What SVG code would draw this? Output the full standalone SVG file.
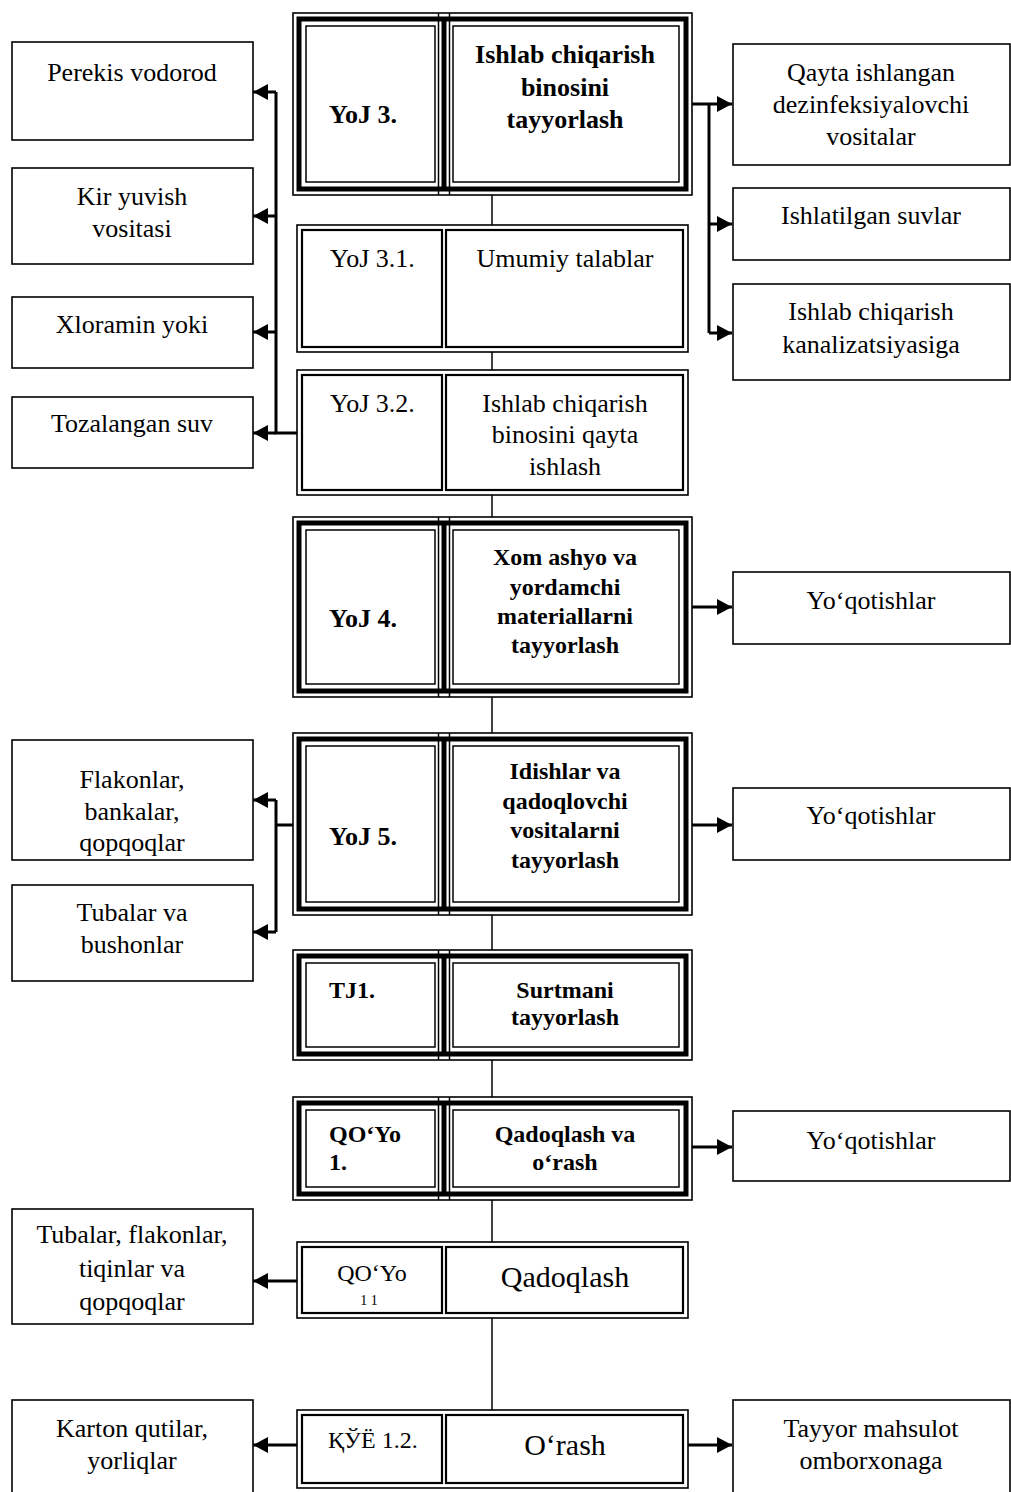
<svg xmlns="http://www.w3.org/2000/svg" width="1011" height="1492" viewBox="0 0 1011 1492">
<style>
text{font-family:"Liberation Serif","DejaVu Serif",serif;fill:#000;text-anchor:middle}
.n{font-size:26px}
.b{font-weight:bold}
.s24{font-size:24px}
.s26{font-size:26px}
.s30{font-size:30px}
.l{text-anchor:start}
.box{fill:#fff;stroke:#000;stroke-width:1.6}
.th{fill:none;stroke:#000;stroke-width:1.5}
.tk{fill:none;stroke:#000;stroke-width:5}
.dk{fill:none;stroke:#000;stroke-width:2.2}
.c{fill:none;stroke:#000;stroke-width:3}
.cl{fill:none;stroke:#000;stroke-width:1.5}
</style>
<defs>
<marker id="ah" markerUnits="userSpaceOnUse" markerWidth="18" markerHeight="18" refX="15" refY="8" orient="auto">
<path d="M0,0 L15,8 L0,16 Z" fill="#000"/>
</marker>
</defs>
<rect width="1011" height="1492" fill="#fff"/>

<g id="connectors">
<line class="cl" x1="492" y1="195" x2="492" y2="1410"/>
<polyline class="c" points="297,433 276,433 276,92"/>
<line class="c" x1="276" y1="92" x2="253" y2="92" marker-end="url(#ah)"/>
<line class="c" x1="276" y1="216" x2="253" y2="216" marker-end="url(#ah)"/>
<line class="c" x1="276" y1="332" x2="253" y2="332" marker-end="url(#ah)"/>
<line class="c" x1="276" y1="433" x2="253" y2="433" marker-end="url(#ah)"/>
<line class="c" x1="692" y1="104" x2="732" y2="104" marker-end="url(#ah)"/>
<line class="c" x1="709" y1="104" x2="709" y2="333"/>
<line class="c" x1="709" y1="224" x2="732" y2="224" marker-end="url(#ah)"/>
<line class="c" x1="709" y1="333" x2="732" y2="333" marker-end="url(#ah)"/>
<line class="c" x1="692" y1="607" x2="732" y2="607" marker-end="url(#ah)"/>
<line class="c" x1="692" y1="825" x2="732" y2="825" marker-end="url(#ah)"/>
<line class="c" x1="293" y1="825" x2="276" y2="825"/>
<line class="c" x1="276" y1="800" x2="276" y2="932"/>
<line class="c" x1="276" y1="800" x2="253" y2="800" marker-end="url(#ah)"/>
<line class="c" x1="276" y1="932" x2="253" y2="932" marker-end="url(#ah)"/>
<line class="c" x1="692" y1="1147" x2="732" y2="1147" marker-end="url(#ah)"/>
<line class="c" x1="297" y1="1281" x2="253" y2="1281" marker-end="url(#ah)"/>
<line class="c" x1="297" y1="1445" x2="253" y2="1445" marker-end="url(#ah)"/>
<line class="c" x1="688" y1="1445" x2="732" y2="1445" marker-end="url(#ah)"/>
</g>

<g id="n-yoj3">
<rect class="box" x="293" y="13" width="399" height="182"/>
<rect class="tk" x="299" y="19" width="387" height="170"/>
<line x1="444" y1="19" x2="444" y2="189" stroke="#000" stroke-width="5"/>
<line class="th" x1="438.5" y1="13" x2="438.5" y2="195"/>
<line class="th" x1="449.5" y1="13" x2="449.5" y2="195"/>
<rect class="th" x="306" y="26" width="129" height="156"/>
<rect class="th" x="453" y="26" width="226" height="156"/>
<text class="b s26 l" x="329" y="123">YoJ 3.</text>
<text class="b s26" x="565" y="63">Ishlab chiqarish</text>
<text class="b s26" x="565" y="96">binosini</text>
<text class="b s26" x="565" y="128">tayyorlash</text>
</g>

<g id="n-yoj31">
<rect class="box" x="297" y="225" width="391" height="127"/>
<rect class="dk" x="302" y="230" width="140" height="117"/>
<rect class="dk" x="446" y="230" width="237" height="117"/>
<text class="n l" x="330" y="267">YoJ 3.1.</text>
<text class="n" x="565" y="267">Umumiy talablar</text>
</g>

<g id="n-yoj32">
<rect class="box" x="297" y="370" width="391" height="125"/>
<rect class="dk" x="302" y="375" width="140" height="115"/>
<rect class="dk" x="446" y="375" width="237" height="115"/>
<text class="n l" x="330" y="412">YoJ 3.2.</text>
<text class="n" x="565" y="412">Ishlab chiqarish</text>
<text class="n" x="565" y="443">binosini qayta</text>
<text class="n" x="565" y="475">ishlash</text>
</g>

<g id="n-yoj4">
<rect class="box" x="293" y="517" width="399" height="180"/>
<rect class="tk" x="299" y="523" width="387" height="168"/>
<line x1="444" y1="523" x2="444" y2="691" stroke="#000" stroke-width="5"/>
<line class="th" x1="438.5" y1="517" x2="438.5" y2="697"/>
<line class="th" x1="449.5" y1="517" x2="449.5" y2="697"/>
<rect class="th" x="306" y="530" width="129" height="154"/>
<rect class="th" x="453" y="530" width="226" height="154"/>
<text class="b s26 l" x="329" y="627">YoJ 4.</text>
<text class="b s24" x="565" y="565">Xom ashyo va</text>
<text class="b s24" x="565" y="595">yordamchi</text>
<text class="b s24" x="565" y="624">materiallarni</text>
<text class="b s24" x="565" y="653">tayyorlash</text>
</g>

<g id="n-yoj5">
<rect class="box" x="293" y="733" width="399" height="182"/>
<rect class="tk" x="299" y="739" width="387" height="170"/>
<line x1="444" y1="739" x2="444" y2="909" stroke="#000" stroke-width="5"/>
<line class="th" x1="438.5" y1="733" x2="438.5" y2="915"/>
<line class="th" x1="449.5" y1="733" x2="449.5" y2="915"/>
<rect class="th" x="306" y="746" width="129" height="156"/>
<rect class="th" x="453" y="746" width="226" height="156"/>
<text class="b s26 l" x="329" y="845">YoJ 5.</text>
<text class="b s24" x="565" y="779">Idishlar va</text>
<text class="b s24" x="565" y="809">qadoqlovchi</text>
<text class="b s24" x="565" y="838">vositalarni</text>
<text class="b s24" x="565" y="868">tayyorlash</text>
</g>

<g id="n-tj1">
<rect class="box" x="293" y="950" width="399" height="110"/>
<rect class="tk" x="299" y="956" width="387" height="98"/>
<line x1="444" y1="956" x2="444" y2="1054" stroke="#000" stroke-width="5"/>
<line class="th" x1="438.5" y1="950" x2="438.5" y2="1060"/>
<line class="th" x1="449.5" y1="950" x2="449.5" y2="1060"/>
<rect class="th" x="306" y="963" width="129" height="84"/>
<rect class="th" x="453" y="963" width="226" height="84"/>
<text class="b s24 l" x="329" y="998">TJ1.</text>
<text class="b s24" x="565" y="998">Surtmani</text>
<text class="b s24" x="565" y="1025">tayyorlash</text>
</g>

<g id="n-qoyo1">
<rect class="box" x="293" y="1097" width="399" height="103"/>
<rect class="tk" x="299" y="1103" width="387" height="91"/>
<line x1="444" y1="1103" x2="444" y2="1194" stroke="#000" stroke-width="5"/>
<line class="th" x1="438.5" y1="1097" x2="438.5" y2="1200"/>
<line class="th" x1="449.5" y1="1097" x2="449.5" y2="1200"/>
<rect class="th" x="306" y="1110" width="129" height="77"/>
<rect class="th" x="453" y="1110" width="226" height="77"/>
<text class="b s24 l" x="329" y="1142">QO‘Yo</text>
<text class="b s24 l" x="329" y="1170">1.</text>
<text class="b s24" x="565" y="1142">Qadoqlash va</text>
<text class="b s24" x="565" y="1170">o‘rash</text>
</g>

<g id="n-qoyo11">
<rect class="box" x="297" y="1242" width="391" height="76"/>
<rect class="dk" x="302" y="1247" width="140" height="66"/>
<rect class="dk" x="446" y="1247" width="237" height="66"/>
<text class="s24" x="372" y="1281">QO‘Yo</text>
<text x="369" y="1305" style="font-size:14px">1 1</text>
<text class="s30" x="565" y="1287">Qadoqlash</text>
</g>

<g id="n-kye12">
<rect class="box" x="297" y="1410" width="391" height="78"/>
<rect class="dk" x="302" y="1415" width="140" height="68"/>
<rect class="dk" x="446" y="1415" width="237" height="68"/>
<text class="s24 l" x="328" y="1448">ҚЎЁ 1.2.</text>
<text class="s30" x="565" y="1455">O‘rash</text>
</g>

<g id="n-perekis"><rect class="box" x="12" y="42" width="241" height="98"/><text class="n" x="132" y="81">Perekis vodorod</text></g>
<g id="n-kir"><rect class="box" x="12" y="168" width="241" height="96"/><text class="n" x="132" y="205">Kir yuvish</text><text class="n" x="132" y="237">vositasi</text></g>
<g id="n-xlor"><rect class="box" x="12" y="297" width="241" height="71"/><text class="n" x="132" y="333">Xloramin yoki</text></g>
<g id="n-toza"><rect class="box" x="12" y="397" width="241" height="71"/><text class="n" x="132" y="432">Tozalangan suv</text></g>

<g id="n-qayta"><rect class="box" x="733" y="44" width="277" height="121"/><text class="n" x="871" y="81">Qayta ishlangan</text><text class="n" x="871" y="113">dezinfeksiyalovchi</text><text class="n" x="871" y="145">vositalar</text></g>
<g id="n-suvlar"><rect class="box" x="733" y="188" width="277" height="72"/><text class="n" x="871" y="224">Ishlatilgan suvlar</text></g>
<g id="n-kanal"><rect class="box" x="733" y="284" width="277" height="96"/><text class="n" x="871" y="320">Ishlab chiqarish</text><text class="n" x="871" y="353">kanalizatsiyasiga</text></g>

<g id="n-yoq1"><rect class="box" x="733" y="572" width="277" height="72"/><text class="n" x="871" y="609">Yo‘qotishlar</text></g>
<g id="n-flakon"><rect class="box" x="12" y="740" width="241" height="120"/><text class="n" x="132" y="788">Flakonlar,</text><text class="n" x="132" y="820">bankalar,</text><text class="n" x="132" y="851">qopqoqlar</text></g>
<g id="n-tubalar"><rect class="box" x="12" y="885" width="241" height="96"/><text class="n" x="132" y="921">Tubalar va</text><text class="n" x="132" y="953">bushonlar</text></g>
<g id="n-yoq2"><rect class="box" x="733" y="788" width="277" height="72"/><text class="n" x="871" y="824">Yo‘qotishlar</text></g>
<g id="n-yoq3"><rect class="box" x="733" y="1111" width="277" height="70"/><text class="n" x="871" y="1149">Yo‘qotishlar</text></g>
<g id="n-tubflak"><rect class="box" x="12" y="1209" width="241" height="115"/><text class="n" x="132" y="1243">Tubalar, flakonlar,</text><text class="n" x="132" y="1277">tiqinlar va</text><text class="n" x="132" y="1310">qopqoqlar</text></g>
<g id="n-karton"><rect class="box" x="12" y="1400" width="241" height="100"/><text class="n" x="132" y="1437">Karton qutilar,</text><text class="n" x="132" y="1469">yorliqlar</text></g>
<g id="n-tayyor"><rect class="box" x="733" y="1400" width="277" height="100"/><text class="n" x="871" y="1437">Tayyor mahsulot</text><text class="n" x="871" y="1469">omborxonaga</text></g>
</svg>
